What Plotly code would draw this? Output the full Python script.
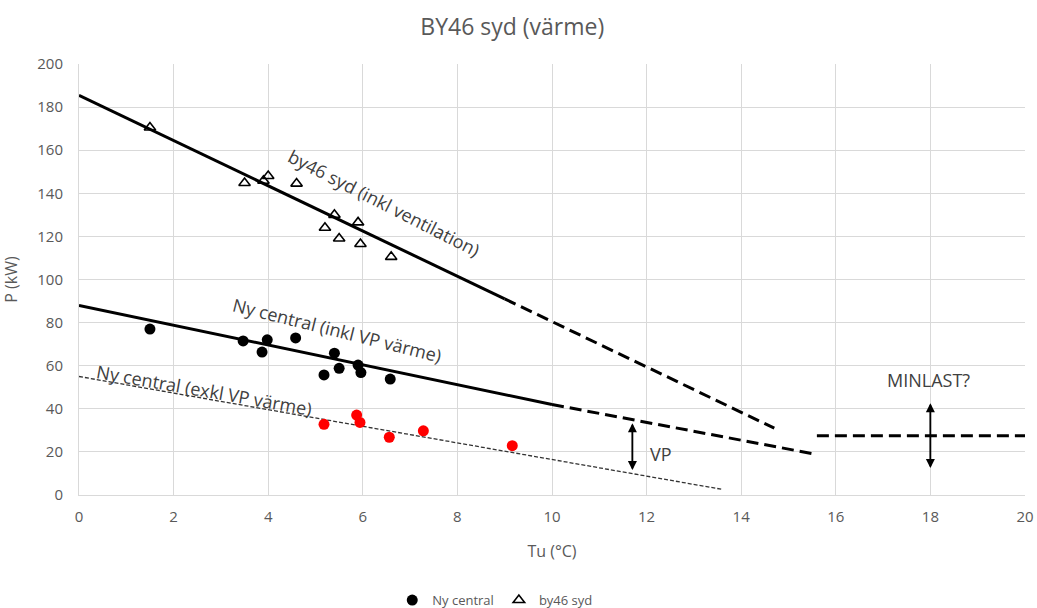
import plotly.graph_objects as go

# Data
by46_tu = [1.5, 3.5, 3.9, 4.0, 4.6, 5.2, 5.4, 5.5, 5.9, 5.95, 6.6]
by46_p = [170.5, 144.8, 145.8, 148, 144.5, 124, 130, 119, 126.5, 116.5, 110.5]

ny_tu = [1.5, 3.47, 3.98, 3.87, 4.58, 5.4, 5.18, 5.5, 5.9, 5.96, 6.58]
ny_p = [77, 71.5, 72, 66.3, 72.9, 65.8, 55.7, 58.8, 60.3, 56.8, 53.8]

red_tu = [5.18, 5.87, 5.94, 6.56, 7.28, 9.16]
red_p = [32.8, 37.1, 33.7, 26.8, 29.8, 22.9]

by46_fit_x = [0, 9.0]
by46_fit_y = [185.5, 91.0]
by46_ext_x = [9.0, 14.7]
by46_ext_y = [91.0, 31.0]

ny_fit_x = [0, 10.0]
ny_fit_y = [88, 42]
ny_ext_x = [10.0, 15.55]
ny_ext_y = [42, 19]

exkl_x = [0, 13.6]
exkl_y = [55, 2.6]

minlast_x = [15.6, 20]
minlast_y = [27.5, 27.5]

font = "Open Sans, Noto Sans, sans-serif"
gray = "#595959"
long_dash = "12px,6px"

fig = go.Figure()

fig.add_trace(go.Scatter(x=by46_fit_x, y=by46_fit_y, mode="lines",
                         line=dict(color="black", width=3), showlegend=False, hoverinfo="skip"))
fig.add_trace(go.Scatter(x=by46_ext_x, y=by46_ext_y, mode="lines",
                         line=dict(color="black", width=3, dash=long_dash), showlegend=False, hoverinfo="skip"))
fig.add_trace(go.Scatter(x=ny_fit_x, y=ny_fit_y, mode="lines",
                         line=dict(color="black", width=3), showlegend=False, hoverinfo="skip"))
fig.add_trace(go.Scatter(x=ny_ext_x, y=ny_ext_y, mode="lines",
                         line=dict(color="black", width=3, dash=long_dash), showlegend=False, hoverinfo="skip"))
fig.add_trace(go.Scatter(x=exkl_x, y=exkl_y, mode="lines",
                         line=dict(color="#333333", width=1.3, dash="4px,2px"), showlegend=False, hoverinfo="skip"))
fig.add_trace(go.Scatter(x=minlast_x, y=minlast_y, mode="lines",
                         line=dict(color="black", width=3, dash=long_dash), showlegend=False, hoverinfo="skip"))

fig.add_trace(go.Scatter(x=red_tu, y=red_p, mode="markers",
                         marker=dict(color="#ff0000", size=11), showlegend=False))
fig.add_trace(go.Scatter(x=ny_tu, y=ny_p, mode="markers", name="Ny central",
                         marker=dict(color="black", size=11)))
fig.add_trace(go.Scatter(x=by46_tu, y=by46_p, mode="markers", name="by46 syd",
                         marker=dict(symbol="triangle-up-open", color="black", size=10,
                                     line=dict(width=1.6, color="black"))))

# Arrows (double-headed)
def dbl_arrow(x, y0, y1):
    for ya, yb in ((y0, y1), (y1, y0)):
        fig.add_annotation(x=x, y=yb, ax=x, ay=ya, xref="x", yref="y", axref="x", ayref="y",
                           showarrow=True, arrowhead=2, arrowsize=1.2, arrowwidth=1.5,
                           arrowcolor="black", text="")

dbl_arrow(11.7, 33.3, 11.6)
dbl_arrow(18.0, 42.6, 12.5)

ann_font = dict(family=font, size=18, color="#404040")
fig.add_annotation(x=6.45, y=135.5, text="by46 syd (inkl ventilation)", showarrow=False,
                   textangle=27, font=ann_font)
fig.add_annotation(x=5.45, y=76.5, text="Ny central (inkl VP värme)", showarrow=False,
                   textangle=14, font=ann_font)
fig.add_annotation(x=2.65, y=48.5, text="Ny central (exkl VP värme)", showarrow=False,
                   textangle=10, font=ann_font)
fig.add_annotation(x=12.3, y=18.8, text="VP", showarrow=False, font=ann_font)
fig.add_annotation(x=17.97, y=53.4, text="MINLAST?", showarrow=False, font=ann_font)

fig.update_layout(
    width=1037, height=608,
    margin=dict(l=79, r=12, t=64, b=113, autoexpand=False),
    paper_bgcolor="white", plot_bgcolor="white",
    font=dict(family=font, color=gray, size=15),
    title=dict(text="BY46 syd (värme)", x=0.494, xanchor="center", y=0.956, yanchor="middle",
               font=dict(size=23, color=gray)),
    legend=dict(orientation="h", x=0.44, xanchor="center", yref="container", y=0.013,
                yanchor="middle", font=dict(size=13, color=gray), itemwidth=30),
    xaxis=dict(range=[0, 20], dtick=2, showgrid=True, gridcolor="#d9d9d9", gridwidth=1,
               zeroline=False, showline=True, linecolor="#d9d9d9", mirror=False, automargin=False,
               ticks="", tickfont=dict(size=15), ticklabelstandoff=8, ticklabeloverflow="allow",
               title=dict(text="Tu (°C)", font=dict(size=16, color=gray), standoff=20)),
    yaxis=dict(range=[0, 200], dtick=20, showgrid=True, gridcolor="#d9d9d9", gridwidth=1,
               zeroline=False, showline=True, linecolor="#d9d9d9", automargin=False,
               ticks="", tickfont=dict(size=15), ticklabelstandoff=12,
               title=dict(text="P (kW)", font=dict(size=16, color=gray), standoff=16)),
)

fig.write_html("out.html", config={"displayModeBar": False},
               post_script="document.body.style.margin='0';document.body.style.overflow='hidden';")
